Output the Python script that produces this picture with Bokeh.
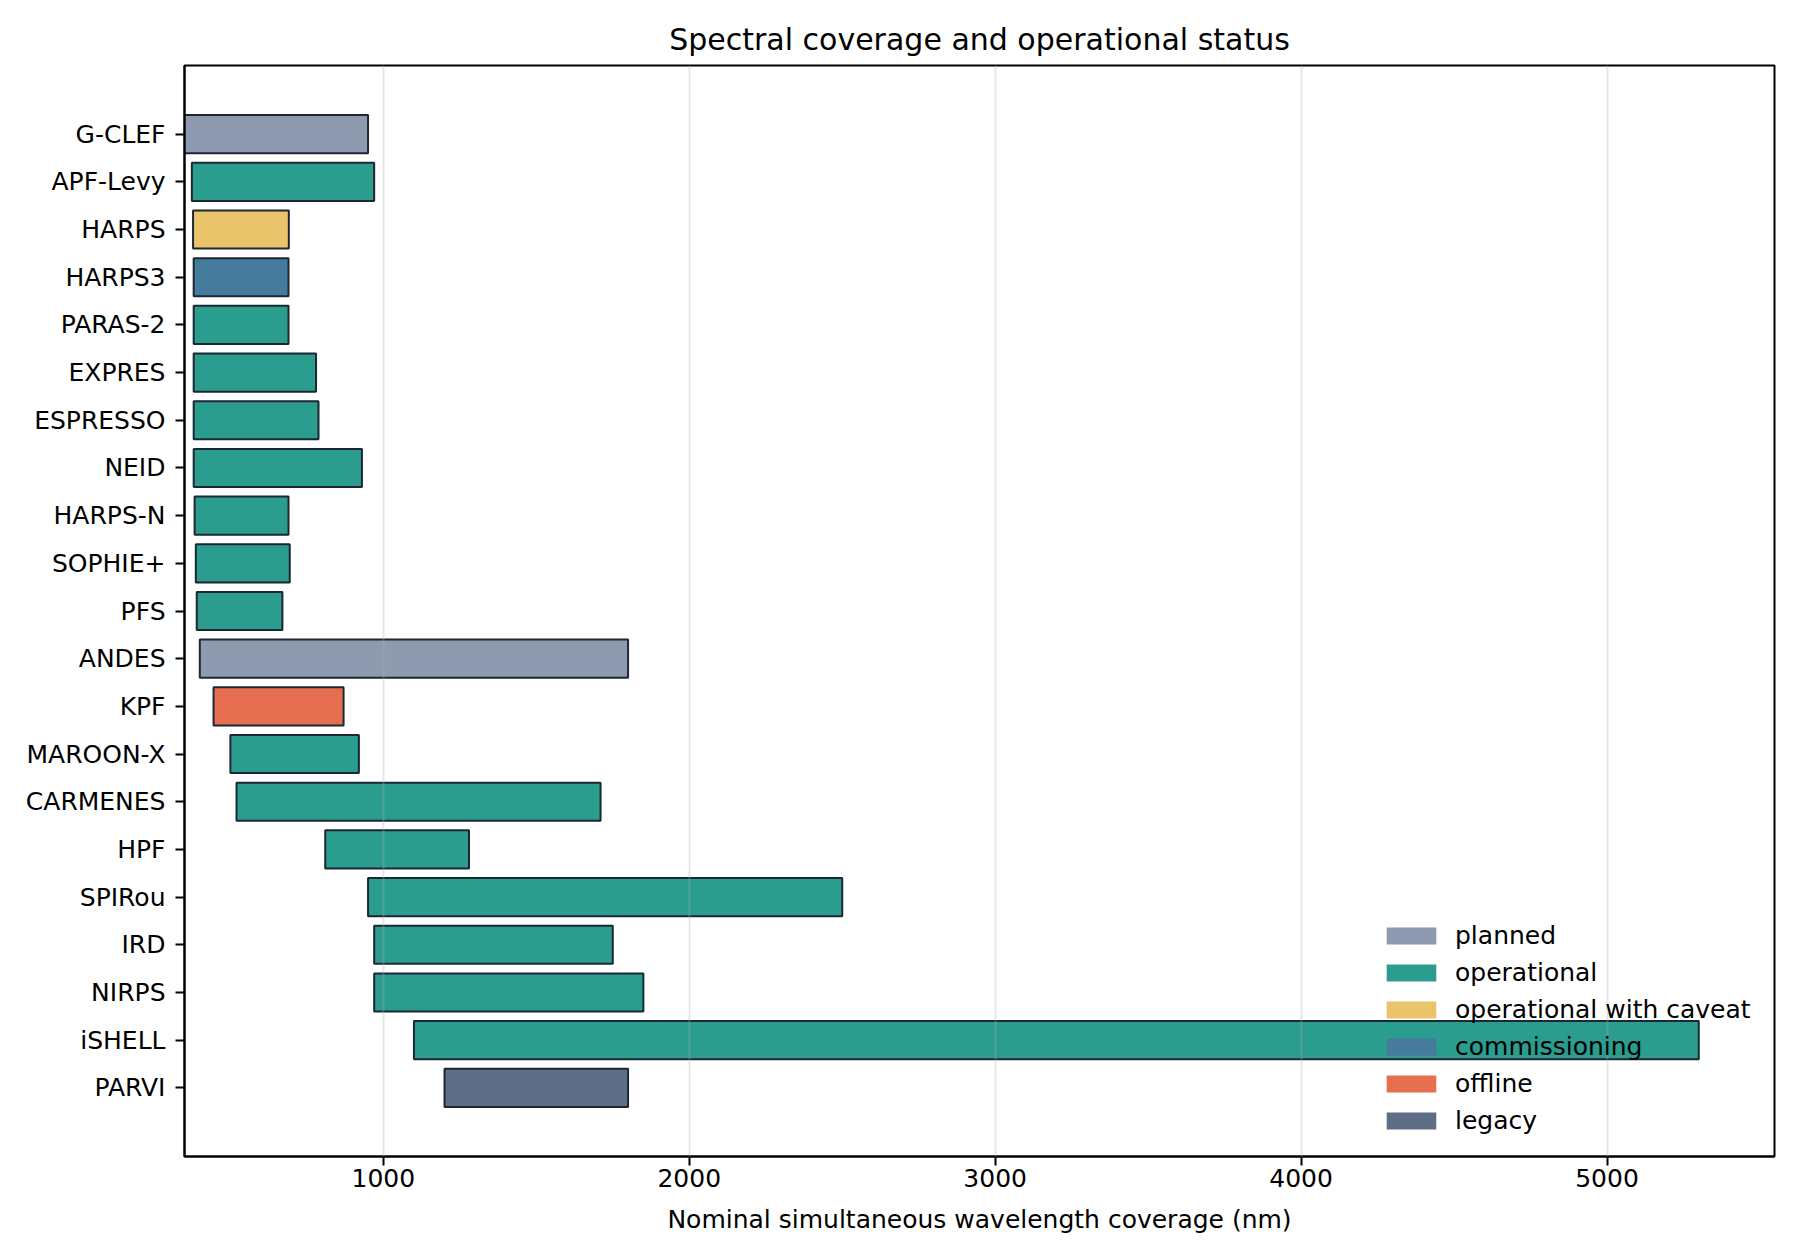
from bokeh.plotting import figure
from bokeh.models import Range1d, FixedTicker, ColumnDataSource, Legend, LegendItem
from bokeh.embed import file_html
from bokeh.resources import INLINE

instruments = ["G-CLEF", "APF-Levy", "HARPS", "HARPS3", "PARAS-2", "EXPRES", "ESPRESSO",
               "NEID", "HARPS-N", "SOPHIE+", "PFS", "ANDES", "KPF", "MAROON-X", "CARMENES",
               "HPF", "SPIRou", "IRD", "NIRPS", "iSHELL", "PARVI"]
start_nm = [350, 374, 378, 380, 380, 380, 380, 380, 383, 387, 390, 400, 445, 500, 520,
            810, 950, 970, 970, 1100, 1200]
end_nm = [950, 970, 691, 690, 690, 780, 788, 930, 690, 694, 670, 1800, 870, 920, 1710,
          1280, 2500, 1750, 1850, 5300, 1800]
status = ["planned", "operational", "operational with caveat", "commissioning", "operational",
          "operational", "operational", "operational", "operational", "operational",
          "operational", "planned", "offline", "operational", "operational", "operational",
          "operational", "operational", "operational", "operational", "legacy"]
status_order = ["planned", "operational", "operational with caveat", "commissioning",
                "offline", "legacy"]
status_colors = ["#8D9AAF", "#2A9D8F", "#E9C46A", "#457B9D", "#E76F51", "#5F6E87"]
x_ticks = [1000, 2000, 3000, 4000, 5000]

cmap = dict(zip(status_order, status_colors))
n = len(instruments)
ypos = [n - 1 - i for i in range(n)]

src = ColumnDataSource(dict(
    y=ypos, left=start_nm, right=end_nm,
    color=[cmap[s] for s in status], name=instruments,
))

FONT = "DejaVu Sans"
p = figure(width=1784, height=1240, output_backend="svg", toolbar_location=None,
           x_range=Range1d(350, 5547.5), y_range=Range1d(-1.44, n - 1 + 1.44),
           min_border_left=184, min_border_right=10, min_border_top=65, min_border_bottom=84,
           title="Spectral coverage and operational status")

p.hbar(y="y", left="left", right="right", height=0.8, source=src,
       fill_color="color", fill_alpha=1.0, line_color="#1d2733", line_width=2)

# legend-only renderers (one NaN row so nothing is drawn in the frame)
items = []
nan = float("nan")
for s, c in zip(status_order, status_colors):
    dummy = ColumnDataSource(dict(y=[nan], left=[nan], right=[nan]))
    r = p.hbar(y="y", left="left", right="right", height=0.8, source=dummy,
               fill_color=c, line_alpha=0)
    items.append(LegendItem(label=s, renderers=[r]))

legend = Legend(items=items, location=(1196, 21), padding=0, margin=0,
                background_fill_alpha=0, border_line_alpha=0,
                glyph_width=62, glyph_height=21, label_height=30, spacing=7,
                label_standoff=13, label_text_font=FONT, label_text_font_size="25px",
                label_text_color="#000000")
p.add_layout(legend, "center")

p.title.align = "center"
p.title.text_font = FONT
p.title.text_font_size = "30px"
p.title.text_font_style = "normal"
p.title.text_color = "#000000"
p.title.standoff = 18

p.xaxis.ticker = FixedTicker(ticks=x_ticks)
p.yaxis.ticker = FixedTicker(ticks=ypos)
p.yaxis.major_label_overrides = {y: name for y, name in zip(ypos, instruments)}
p.xaxis.axis_label = "Nominal simultaneous wavelength coverage (nm)"

for ax in (p.xaxis, p.yaxis):
    ax.major_label_text_font = FONT
    ax.major_label_text_font_size = "25px"
    ax.major_label_text_color = "#000000"
    ax.axis_label_text_font = FONT
    ax.axis_label_text_font_size = "25px"
    ax.axis_label_text_font_style = "normal"
    ax.axis_label_text_color = "#000000"
    ax.major_tick_out = 9
    ax.major_tick_in = 0
    ax.minor_tick_line_color = None
    ax.major_tick_line_width = 2
    ax.axis_line_width = 2
    ax.axis_line_color = "#000000"
    ax.major_tick_line_color = "#000000"
p.xaxis.major_label_standoff = 3
p.xaxis.axis_label_standoff = 15
p.yaxis.major_label_standoff = 10

p.ygrid.grid_line_color = None
p.xgrid.grid_line_color = "#b0b0b0"
p.xgrid.grid_line_alpha = 0.3
p.xgrid.grid_line_width = 2
p.xgrid.level = "overlay"

p.outline_line_color = "#000000"
p.outline_line_width = 2
p.outline_line_alpha = 1.0
p.background_fill_color = "white"
p.border_fill_color = "white"

open("out.html", "w").write(file_html(p, INLINE))
